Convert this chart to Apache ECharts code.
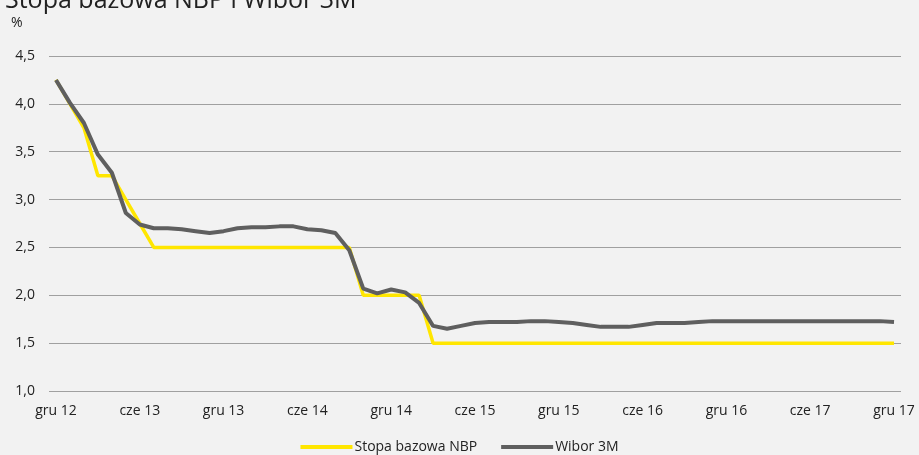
<!DOCTYPE html>
<html>
<head>
<meta charset="utf-8">
<script src="https://cdn.jsdelivr.net/npm/echarts@6/dist/echarts.min.js"></script>
<style>
  html, body { margin: 0; padding: 0; background: #f2f2f2; }
  #chart { width: 919px; height: 455px; }
</style>
</head>
<body>
<div id="chart"></div>
<script>
// miesiące gru 12 .. gru 17
var months = ["gru 12", "sty 13", "lut 13", "mar 13", "kwi 13", "maj 13", "cze 13", "lip 13", "sie 13", "wrz 13", "paź 13", "lis 13",
  "gru 13", "sty 14", "lut 14", "mar 14", "kwi 14", "maj 14", "cze 14", "lip 14", "sie 14", "wrz 14", "paź 14", "lis 14",
  "gru 14", "sty 15", "lut 15", "mar 15", "kwi 15", "maj 15", "cze 15", "lip 15", "sie 15", "wrz 15", "paź 15", "lis 15",
  "gru 15", "sty 16", "lut 16", "mar 16", "kwi 16", "maj 16", "cze 16", "lip 16", "sie 16", "wrz 16", "paź 16", "lis 16",
  "gru 16", "sty 17", "lut 17", "mar 17", "kwi 17", "maj 17", "cze 17", "lip 17", "sie 17", "wrz 17", "paź 17", "lis 17",
  "gru 17"];

var stopaNBP = [4.25, 4.0, 3.75, 3.25, 3.25, 3.0, 2.75, 2.5, 2.5, 2.5, 2.5, 2.5,
  2.5, 2.5, 2.5, 2.5, 2.5, 2.5, 2.5, 2.5, 2.5, 2.5, 2.0, 2.0,
  2.0, 2.0, 2.0, 1.5, 1.5, 1.5, 1.5, 1.5, 1.5, 1.5, 1.5, 1.5,
  1.5, 1.5, 1.5, 1.5, 1.5, 1.5, 1.5, 1.5, 1.5, 1.5, 1.5, 1.5,
  1.5, 1.5, 1.5, 1.5, 1.5, 1.5, 1.5, 1.5, 1.5, 1.5, 1.5, 1.5,
  1.5];

var wibor3M = [4.25, 4.01, 3.80, 3.47, 3.28, 2.86, 2.74, 2.70, 2.70, 2.69, 2.67, 2.65,
  2.67, 2.70, 2.71, 2.71, 2.72, 2.72, 2.69, 2.68, 2.65, 2.47, 2.07, 2.02,
  2.06, 2.03, 1.92, 1.68, 1.65, 1.68, 1.71, 1.72, 1.72, 1.72, 1.73, 1.73,
  1.72, 1.71, 1.69, 1.67, 1.67, 1.67, 1.69, 1.71, 1.71, 1.71, 1.72, 1.73,
  1.73, 1.73, 1.73, 1.73, 1.73, 1.73, 1.73, 1.73, 1.73, 1.73, 1.73, 1.73,
  1.72];

var chart = echarts.init(document.getElementById("chart"));
var option = {
  backgroundColor: "#f2f2f2",
  textStyle: { fontFamily: "Open Sans" },
  title: {
    text: "Stopa bazowa NBP i Wibor 3M",
    left: 0,
    top: -17,
    textStyle: { fontSize: 25, fontWeight: "normal", color: "#222", fontFamily: "Open Sans" }
  },
  graphic: [{
    type: "text",
    left: 11,
    top: 16,
    style: { text: "%", fontSize: 14, fill: "#222", fontFamily: "Open Sans" }
  }],
  legend: {
    bottom: -4,
    left: "center",
    itemWidth: 52,
    itemHeight: 4,
    itemGap: 24,
    icon: "rect",
    textStyle: { fontSize: 14, color: "#222", padding: [0, 0, 0, -3] },
    data: ["Stopa bazowa NBP", "Wibor 3M"]
  },
  grid: { left: 49, right: 18, top: 56, bottom: 64 },
  xAxis: {
    type: "category",
    data: months,
    boundaryGap: true,
    axisLine: { show: false },
    axisTick: { show: false },
    axisLabel: { interval: 5, color: "#222", fontSize: 14, margin: 13 },
    splitLine: { show: false }
  },
  yAxis: {
    type: "value",
    min: 1,
    max: 4.5,
    interval: 0.5,
    axisLine: { show: false },
    axisTick: { show: false },
    axisLabel: {
      color: "#222",
      fontSize: 14,
      margin: 14,
      formatter: function (v) { return v.toFixed(1).replace(".", ","); }
    },
    splitLine: { lineStyle: { color: "#a0a0a0", width: 1 } }
  },
  series: [
    {
      name: "Stopa bazowa NBP",
      type: "line",
      data: stopaNBP,
      symbol: "none",
      itemStyle: { color: "#ffe600" },
      lineStyle: { color: "#ffe600", width: 3.5 }
    },
    {
      name: "Wibor 3M",
      type: "line",
      data: wibor3M,
      symbol: "none",
      itemStyle: { color: "#5f5f5f" },
      lineStyle: { color: "#5f5f5f", width: 4 }
    }
  ]
};
chart.setOption(option);
</script>
</body>
</html>
